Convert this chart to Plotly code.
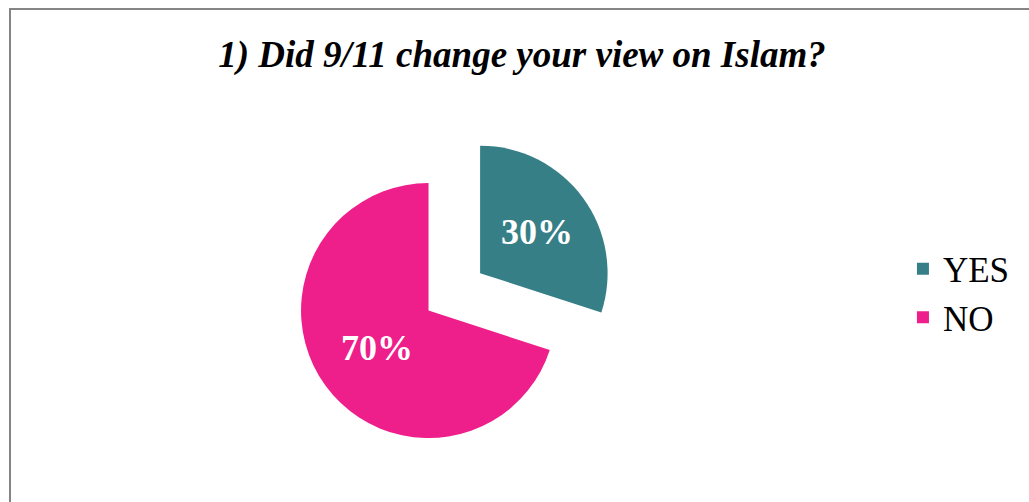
import plotly.graph_objects as go

labels = ["YES", "NO"]
values = [30, 70]
colors = ["#367F87", "#EE1E8A"]
pulls = [0.5, 0]
title_text = "1) Did 9/11 change your view on Islam?"

fig = go.Figure(go.Pie(
    labels=labels,
    values=values,
    marker=dict(colors=colors, line=dict(width=0)),
    pull=pulls,
    sort=False,
    direction="clockwise",
    rotation=0,
    textinfo="percent",
    texttemplate="%{percent:.0%}",
    textposition="inside",
    insidetextorientation="horizontal",
    textfont=dict(family="Liberation Serif", size=36, color="white", weight="bold"),
    domain=dict(x=[0.2306, 0.6023], y=[0.0, 0.7625]),
    hoverinfo="label+percent",
))

fig.update_layout(
    width=1029, height=502,
    margin=dict(l=0, r=0, t=0, b=0),
    paper_bgcolor="white",
    plot_bgcolor="white",
    title=dict(
        text="<b><i>" + title_text + "</i></b>",
        font=dict(family="Liberation Serif", size=37, color="black"),
        x=522 / 1029, xanchor="center", y=1 - 54 / 502, yanchor="middle",
    ),
    legend=dict(
        x=0.8775, xanchor="left", y=1 - 293 / 502, yanchor="middle",
        font=dict(family="Liberation Serif", size=35, color="black"),
        bgcolor="rgba(0,0,0,0)",
    ),
    shapes=[dict(type="rect", xref="paper", yref="paper",
                 x0=10 / 1029, x1=1.2, y0=-0.2, y1=1 - 9 / 502,
                 line=dict(color="#858585", width=2), fillcolor="rgba(0,0,0,0)",
                 layer="below")],
)

fig.write_html("out.html")
